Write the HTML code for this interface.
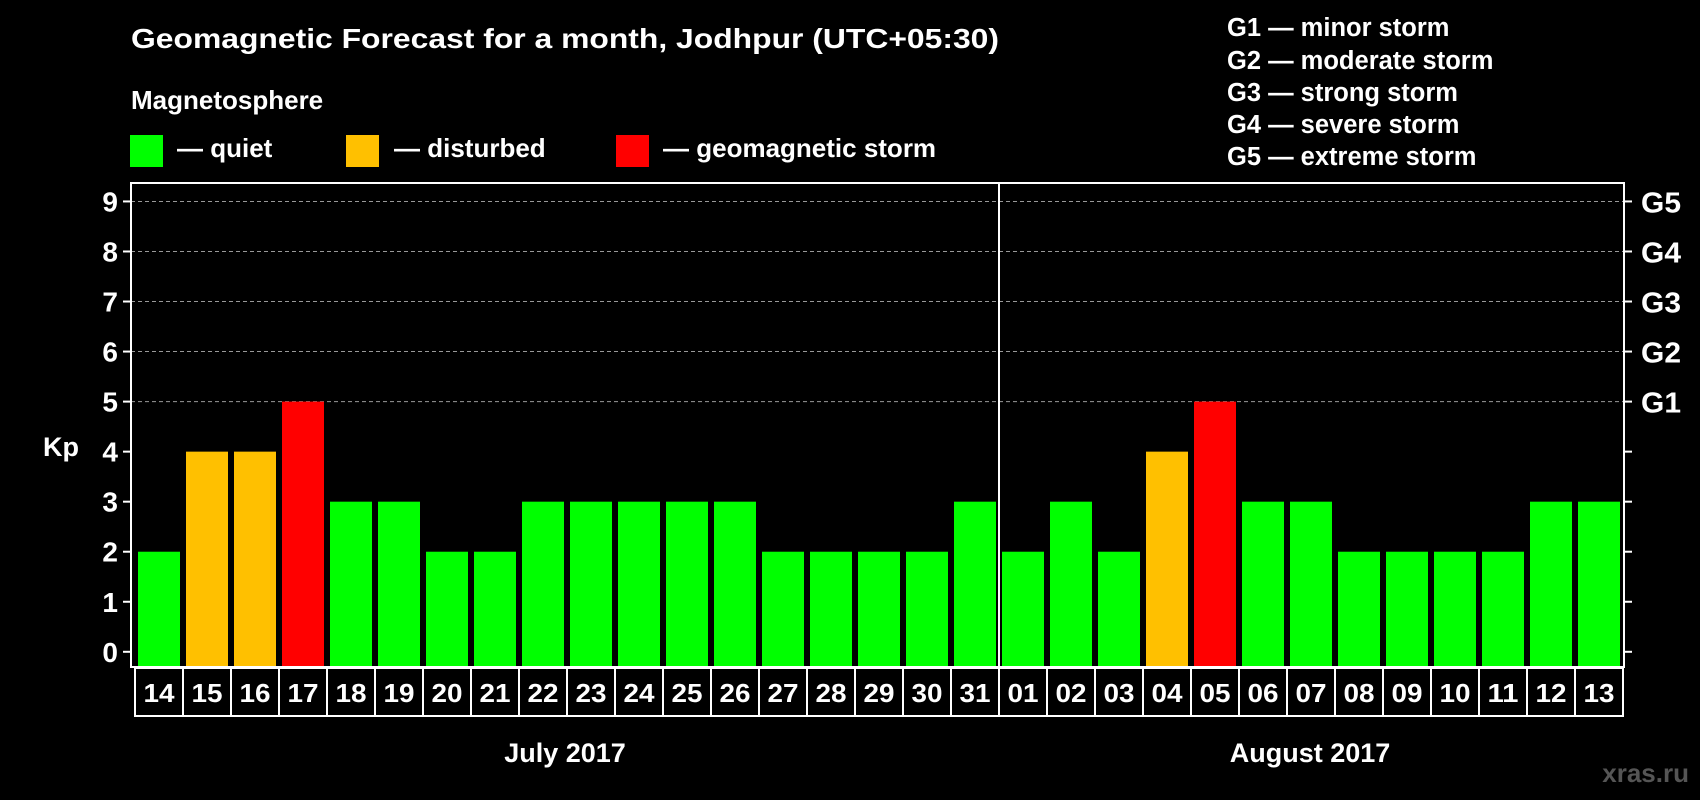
<!DOCTYPE html>
<html><head><meta charset="utf-8"><style>
html,body{margin:0;padding:0;background:#000;}
svg{display:block;font-family:"Liberation Sans",Arial,sans-serif;font-weight:bold;}
</style></head><body>
<svg id="chart" width="1700" height="800" viewBox="0 0 1700 800">
<rect width="1700" height="800" fill="#000"/>
<text x="131" y="48" fill="#fff" font-size="28" textLength="868" lengthAdjust="spacingAndGlyphs">Geomagnetic Forecast for a month, Jodhpur (UTC+05:30)</text>
<text x="131" y="109" fill="#fff" font-size="26">Magnetosphere</text>
<g><rect x="130" y="135" width="33" height="32" fill="#00ff00"/><text x="177" y="157" fill="#fff" font-size="26">— quiet</text></g>
<g><rect x="346" y="135" width="33" height="32" fill="#ffc000"/><text x="394" y="157" fill="#fff" font-size="26">— disturbed</text></g>
<g><rect x="616" y="135" width="33" height="32" fill="#ff0000"/><text x="663" y="157" fill="#fff" font-size="26">— geomagnetic storm</text></g>
<g fill="#fff" font-size="25.5">
<text x="1227" y="36">G1 — minor storm</text>
<text x="1227" y="69">G2 — moderate storm</text>
<text x="1227" y="101">G3 — strong storm</text>
<text x="1227" y="133">G4 — severe storm</text>
<text x="1227" y="165">G5 — extreme storm</text>
</g>
<text x="43" y="456" fill="#fff" font-size="27">Kp</text>
<g id="plot"></g>
<text x="565" y="762" fill="#fff" font-size="27" text-anchor="middle">July 2017</text>
<text x="1310" y="762" fill="#fff" font-size="27" text-anchor="middle">August 2017</text>
<text x="1689" y="782" fill="#555" font-size="26" text-anchor="end">xras.ru</text>
</svg>
<script>
const days = ["14","15","16","17","18","19","20","21","22","23","24","25","26","27","28","29","30","31","01","02","03","04","05","06","07","08","09","10","11","12","13"];
const kpValues = [2,4,4,5,3,3,2,2,3,3,3,3,3,2,2,2,2,3,2,3,2,4,5,3,3,2,2,2,2,3,3];
const yTicks = [0,1,2,3,4,5,6,7,8,9];
const gLabels = ["G1","G2","G3","G4","G5"];
const gLevels = [5,6,7,8,9];

const NS="http://www.w3.org/2000/svg";
const g=document.getElementById('plot');
const plotL=131, plotR=1624, plotT=183, plotB=667;
const colL=135, colW=48;
function y(v){return 651.8 - v*50.04;}
function x(i){return colL + i*colW;}
function mk(tag,attrs){const e=document.createElementNS(NS,tag);for(const k in attrs)e.setAttribute(k,attrs[k]);g.appendChild(e);return e;}

yTicks.forEach(t=>{
  if(t>=5){const l=mk('line',{x1:plotL,x2:plotR,y1:y(t),y2:y(t),stroke:'#999','stroke-width':1,'stroke-dasharray':'4,3'});
  
  }
  const tl=mk('line',{x1:plotL-8,x2:plotL,y1:y(t),y2:y(t),stroke:'#fff','stroke-width':2});
  
  
  const tr=mk('line',{x1:plotR,x2:plotR+8,y1:y(t),y2:y(t),stroke:'#fff','stroke-width':2});
  
  
  const tx=mk('text',{x:118,y:y(t)+10,fill:'#fff','font-size':28,'text-anchor':'end'});
  tx.textContent=t;
  
  
});
gLabels.forEach((lab,i)=>{
  const tx=mk('text',{x:1641,y:y(gLevels[i])+11,fill:'#fff','font-size':29,textLength:40,lengthAdjust:'spacingAndGlyphs'});
  tx.textContent=lab;
  
  
});
kpValues.forEach((v,i)=>{
  const c = v>=5?'#ff0000':(v===4?'#ffc000':'#00ff00');
  const r=mk('rect',{x:x(i)+3,y:y(v),width:colW-6,height:plotB-1-y(v),fill:c});
  
  
  const b=mk('rect',{x:x(i),y:plotB+1,width:colW,height:48,fill:'none',stroke:'#fff','stroke-width':2});
  
  
  const t=mk('text',{x:x(i)+colW/2,y:plotB+35,fill:'#fff','font-size':26,'text-anchor':'middle',textLength:31,lengthAdjust:'spacingAndGlyphs'});
  t.textContent=days[i];
  
  
});
const frame=mk('rect',{x:plotL,y:plotT,width:plotR-plotL,height:plotB-plotT,fill:'none',stroke:'#fff','stroke-width':2});


const div=mk('line',{x1:x(18),x2:x(18),y1:plotT,y2:plotB,stroke:'#fff','stroke-width':2});


</script>
</body></html>
